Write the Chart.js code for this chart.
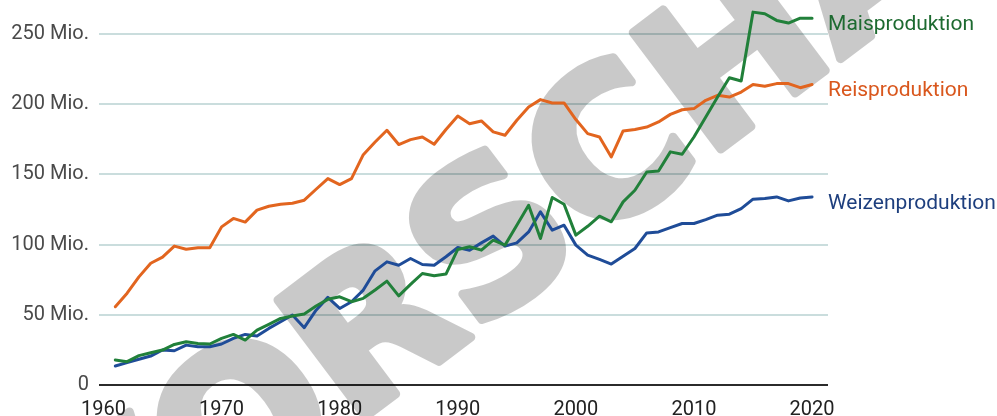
<!DOCTYPE html>
<html>
<head>
<meta charset="utf-8">
<script src="https://cdn.jsdelivr.net/npm/chart.js@4"></script>
<style>
  body { margin: 0; background: #fff; }
  #wrap { width: 997px; height: 416px; position: relative; }
</style>
</head>
<body>
<div id="wrap"><canvas id="lineChartCanvas"></canvas></div>
<script>
// years 1961 - 2020
var years = [1961, 1962, 1963, 1964, 1965, 1966, 1967, 1968, 1969, 1970,
  1971, 1972, 1973, 1974, 1975, 1976, 1977, 1978, 1979, 1980,
  1981, 1982, 1983, 1984, 1985, 1986, 1987, 1988, 1989, 1990,
  1991, 1992, 1993, 1994, 1995, 1996, 1997, 1998, 1999, 2000,
  2001, 2002, 2003, 2004, 2005, 2006, 2007, 2008, 2009, 2010,
  2011, 2012, 2013, 2014, 2015, 2016, 2017, 2018, 2019, 2020];

// production in millions
var maisProduktion = [17.8, 16.6, 20.9, 23, 24.9, 28.9, 30.8, 29.6, 29.2, 33.2,
  36, 32, 39.1, 43.2, 47.4, 49.1, 50.5, 56.2, 61, 62.8,
  59.3, 61.7, 67.6, 74, 63.5, 71.6, 79.4, 77.8, 79, 96.5,
  98.4, 96, 103.1, 99.6, 113.8, 128, 104.3, 133.5, 128.7, 106.7,
  113, 120.2, 116.2, 130.4, 138.7, 151.7, 152.4, 166, 164.3, 176.6,
  190.8, 205, 218.8, 216.5, 265.5, 264.3, 259.6, 257.7, 261.2, 261.2];

var reisProduktion = [55.7, 65.4, 77, 86.7, 91, 98.9, 96.7, 97.7, 97.7, 112.6,
  118.6, 116, 124.5, 127.3, 128.7, 129.4, 131.6, 139.4, 147, 142.7,
  147, 164, 173, 181.4, 171.2, 174.7, 176.6, 171.4, 181.9, 191.5,
  186, 188, 180.2, 177.8, 188.5, 198, 203.2, 200.8, 200.8, 189,
  179, 176.6, 162.4, 180.9, 181.9, 183.7, 187.3, 192.7, 196, 196.8,
  202.7, 206.3, 205, 208.6, 214, 212.7, 214.6, 214.6, 211.7, 214];

var weizenProduktion = [13.5, 15.9, 18.3, 20.6, 24.9, 24.4, 28.4, 27.2, 27.2, 29.2,
  33.2, 36, 34.9, 40.3, 45, 49.8, 40.8, 53.3, 62.4, 54.5,
  59.3, 67.6, 81.3, 87.7, 85.3, 90.1, 85.8, 85.3, 91.3, 97.9,
  96, 101.2, 106, 98.9, 101.2, 109, 123.3, 110.2, 113.8, 99.6,
  92.5, 89.4, 86.1, 91.7, 97.2, 108.3, 109, 112.1, 115, 115,
  117.8, 120.9, 121.6, 125.6, 132.3, 132.8, 133.9, 131.1, 133.2, 133.9];

var xTicks = [1960, 1970, 1980, 1990, 2000, 2010, 2020];
var yTicks = [0, 50, 100, 150, 200, 250];

var seriesNames = ['Maisproduktion', 'Reisproduktion', 'Weizenproduktion'];
var lineColors = ['#21803a', '#e2651f', '#1f4c98'];
var labelColors = ['#1d6a30', '#d9571d', '#1e3f7e'];

function toPoints(values) {
  return values.map(function (v, i) {
    return { x: years[i], y: v };
  });
}

// watermark: drawn solid on a spare canvas, then laid over the grid (under the lines)
var watermarkPlugin = {
  id: 'watermark',
  beforeDatasetsDraw: function (chart) {
    var off = document.createElement('canvas');
    off.width = chart.width;
    off.height = chart.height;
    var o = off.getContext('2d');
    o.translate(560, 205);
    o.rotate(-37 * Math.PI / 180);
    o.font = 'bold 200px "DejaVu Sans", sans-serif';
    o.textAlign = 'center';
    o.textBaseline = 'middle';
    o.fillStyle = '#000';
    o.strokeStyle = '#000';
    o.lineWidth = 9;
    o.lineJoin = 'round';
    o.fillText('VORSCHAU', 0, 0);
    o.strokeText('VORSCHAU', 0, 0);

    var ctx = chart.ctx;
    ctx.save();
    ctx.globalAlpha = 0.21;
    ctx.drawImage(off, 0, 0, chart.width, chart.height);
    ctx.restore();
  }
};

// names at the end of each line
var endLabelPlugin = {
  id: 'endLabels',
  afterDatasetsDraw: function (chart) {
    var ctx = chart.ctx;
    ctx.save();
    ctx.font = '21px Roboto, sans-serif';
    ctx.textAlign = 'left';
    ctx.textBaseline = 'alphabetic';
    chart.data.datasets.forEach(function (ds, i) {
      var meta = chart.getDatasetMeta(i);
      var last = meta.data[meta.data.length - 1];
      ctx.fillStyle = labelColors[i];
      ctx.fillText(ds.label, last.x + 16, last.y + 12);
    });
    ctx.restore();
  }
};

var ctx = document.getElementById('lineChartCanvas').getContext('2d');
var lineChart = new Chart(ctx, {
  type: 'line',
  data: {
    datasets: [{
      label: seriesNames[0],
      data: toPoints(maisProduktion),
      borderColor: lineColors[0]
    },
    {
      label: seriesNames[1],
      data: toPoints(reisProduktion),
      borderColor: lineColors[1]
    },
    {
      label: seriesNames[2],
      data: toPoints(weizenProduktion),
      borderColor: lineColors[2]
    }]
  },
  options: {
    responsive: true,
    maintainAspectRatio: false,
    animation: false,
    events: [],
    layout: {
      padding: { top: 3, right: 169, left: 0, bottom: 0 }
    },
    elements: {
      line: { borderWidth: 3, tension: 0, borderJoinStyle: 'round', borderCapStyle: 'round' },
      point: { radius: 0 }
    },
    plugins: {
      legend: { display: false },
      tooltip: { enabled: false }
    },
    scales: {
      x: {
        type: 'linear',
        min: 1959.62,
        max: 2021.35,
        afterBuildTicks: function (axis) {
          axis.ticks = xTicks.map(function (v) { return { value: v }; });
        },
        afterFit: function (axis) { axis.height = 31; },
        grid: { display: false },
        border: { display: false },
        ticks: {
          padding: 5,
          autoSkip: false,
          maxRotation: 0,
          color: '#222',
          font: { family: 'Roboto', size: 20 },
          callback: function (v) { return String(v); }
        }
      },
      y: {
        min: 0,
        max: 272,
        afterBuildTicks: function (axis) {
          axis.ticks = yTicks.map(function (v) { return { value: v }; });
        },
        afterFit: function (axis) {
          axis.width = 99;
          axis.paddingTop = 0;
          axis.paddingBottom = 0;
        },
        grid: {
          drawTicks: false,
          lineWidth: 2,
          color: function (c) { return c.tick.value === 0 ? '#2b2b2b' : '#cadddd'; }
        },
        border: { display: false },
        ticks: {
          padding: 10,
          color: '#4a4a4a',
          font: { family: 'Roboto', size: 20 },
          callback: function (v) { return v === 0 ? '0' : v + ' Mio.'; }
        }
      }
    }
  },
  plugins: [watermarkPlugin, endLabelPlugin]
});
</script>
</body>
</html>
